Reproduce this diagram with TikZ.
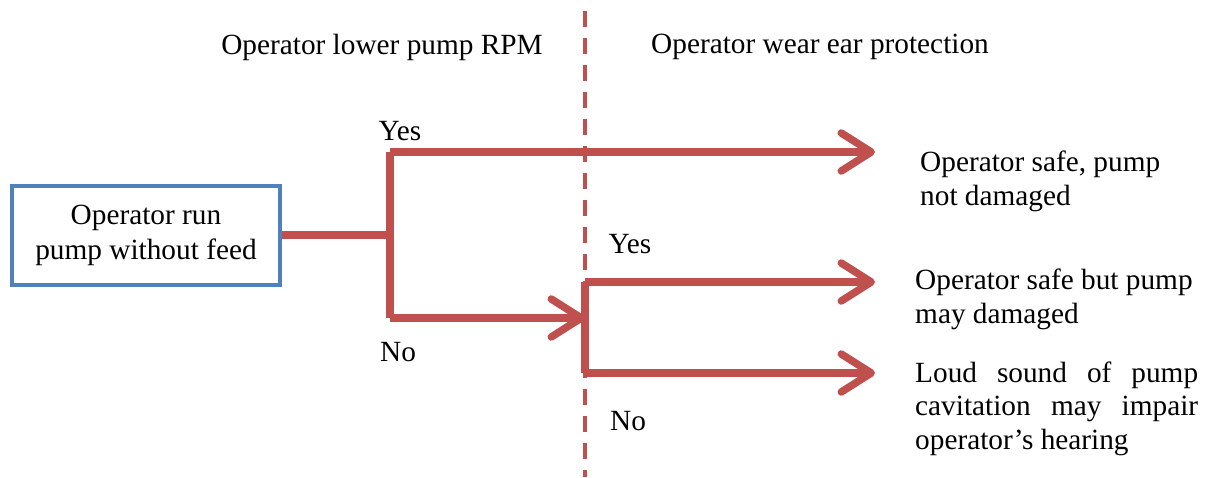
\documentclass[tikz,border=0pt]{standalone}
\usepackage{fontspec}
\setmainfont{Liberation Serif}
\usetikzlibrary{arrows.meta}
\definecolor{wred}{HTML}{C0504D}
\definecolor{wblue}{HTML}{4F81BD}
\begin{document}
\begin{tikzpicture}[x=1pt,y=-1pt,
  txt/.style={inner sep=0pt,font=\fontsize{29.3}{33.5}\selectfont},
  flow/.style={draw=wred,line width=7.5pt,line join=round},
  arr/.style={flow,-{Straight Barb[length=30pt,width=38pt,round]}},
  divider/.style={draw=wred,line width=4pt,dash pattern=on 16pt off 11pt}]
\useasboundingbox (0,0) rectangle (1213,477);
\coordinate (dtop) at (585,11);
\coordinate (dbot) at (585,477);
\draw[divider] (dtop) -- (dbot);
\node[txt] (h1) at (382,47) {Operator lower pump RPM};
\node[txt] (h2) at (820,47) {Operator wear ear protection};
\node[draw=wblue,line width=4pt,minimum width=268pt,minimum height=99pt,align=center,
  font=\fontsize{29.3}{35}\selectfont,inner sep=0pt] (start) at (146,235)
  {Operator run\\pump without feed};
\coordinate (b1) at (390,235);
\coordinate (b1t) at (390,152);
\coordinate (b1b) at (390,318);
\coordinate (b2) at (585,318);
\coordinate (b2t) at (585,282);
\coordinate (b2b) at (585,373);
\coordinate (e1) at (875,152);
\coordinate (e2) at (875,282);
\coordinate (e3) at (875,373);
\draw[flow] (start.east) -- (b1);
\draw[flow] (b1t) -- (b1b);
\draw[arr] (b1t) -- (e1);
\draw[arr] (b1b) -- (b2);
\draw[flow] (b2t) -- (b2b);
\draw[arr] (b2t) -- (e2);
\draw[arr] (b2b) -- (e3);
\node[txt] (y1) at (400,131) {Yes};
\node[txt] (n1) at (398,352) {No};
\node[txt] (y2) at (630,244) {Yes};
\node[txt] (n2) at (628,421) {No};
\node[txt,anchor=west,align=left] (r1) at (920,181.5) {Operator safe, pump\\not damaged};
\node[txt,anchor=west,align=left] (r2) at (915,299.5) {Operator safe but pump\\may damaged};
\node[txt,anchor=west,align=left] (r3) at (915,408.5)
  {\makebox[283pt][s]{Loud sound of pump}\\\makebox[283pt][s]{cavitation may impair}\\operator’s hearing};
\end{tikzpicture}
\end{document}
